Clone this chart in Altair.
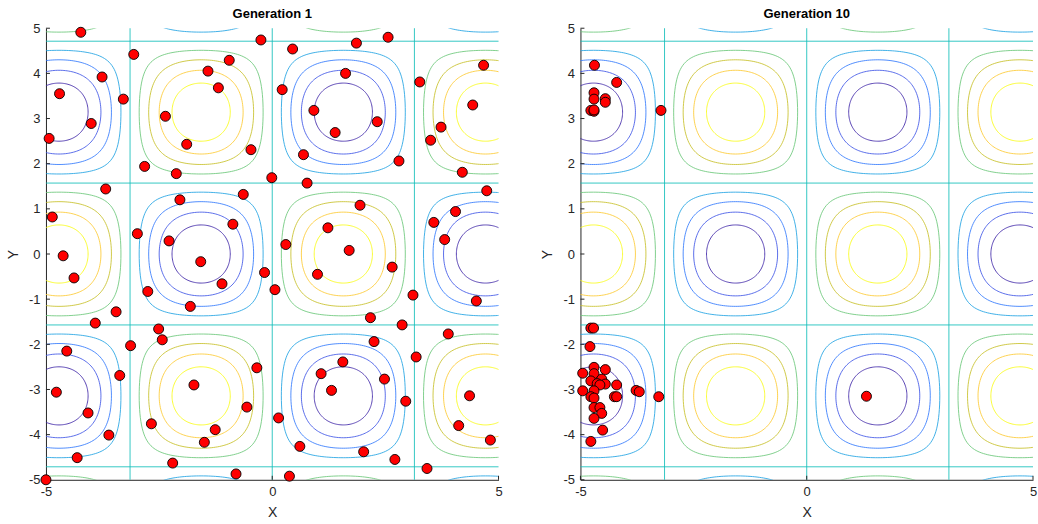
import numpy as np
import pandas as pd
import altair as alt

# ---------------- data ----------------
# contour levels of f(x, y) = sin(x) * cos(y) and their (parula) colours
levels = [-0.8, -0.6, -0.4, -0.2, 0.2, 0.4, 0.6, 0.8]
level_colors = ["#3E26A8", "#3F55E6", "#337AFD", "#21A3E3",
                "#6CC87A", "#C8C129", "#FDCA33", "#F9FB15"]
zero_color = "#12BEB9"

# extrema centres of sin(x)cos(y) near the window
centers_x = [-1.5 * np.pi, -0.5 * np.pi, 0.5 * np.pi, 1.5 * np.pi]
centers_y = [-2 * np.pi, -np.pi, 0.0, np.pi, 2 * np.pi]
# zero contours (straight lines)
zero_x = [-np.pi, 0.0, np.pi]
zero_y = [-1.5 * np.pi, -0.5 * np.pi, 0.5 * np.pi, 1.5 * np.pi]

x_ticks = [-5, 0, 5]
y_ticks = [-5, -4, -3, -2, -1, 0, 1, 2, 3, 4, 5]

# Generation 1 population
gen1_x = [-4.23, -0.25, -3.06, -0.95, -1.42, -3.76, -1.19, -4.70, -3.29, -2.36,
          -4.00, -4.93, -1.89, -0.47, -2.82, -2.12, -3.68, -0.64, -2.04, -4.86,
          -0.87, -2.98, -2.28, -4.62,
          0.45, 1.86, 2.56, 1.62, 0.22, 4.67, 3.26, 0.92, 2.32, 1.39,
          4.43, 3.73, 3.50, 0.69, 2.80, 4.20, -0.01, 0.77, 4.74, 1.94,
          4.05, 3.57, 1.23, 0.30, 3.81, 1.70,
          -1.58, -4.38, -1.11, -2.75, -1.81, -3.45, -3.91, -2.51, -2.43, -3.13,
          -4.54, -0.34, -3.37, -1.73, -4.77, -0.56, -4.07, -2.67, -1.26, -3.61,
          -1.50, -4.31, -2.20, -0.80, -5.00,
          -0.17, 1.00, 2.65, 0.06, 3.11, 4.51, 2.17, 2.87, 3.89, 2.25,
          1.56, 3.18, 1.08, 2.48, 1.31, 2.95, 4.36, 0.14, 4.12, 4.82,
          0.61, 2.02, 2.71, 3.42, 0.38]
gen1_y = [4.91, 4.74, 4.42, 4.29, 4.05, 3.92, 3.68, 3.55, 3.43, 3.05,
          2.89, 2.56, 2.43, 2.31, 1.94, 1.78, 1.44, 1.32, 1.20, 0.82,
          0.66, 0.45, 0.29, -0.04,
          4.54, 4.67, 4.80, 4.00, 3.64, 4.18, 3.81, 3.18, 2.93, 2.69,
          3.30, 2.81, 2.52, 2.20, 2.06, 1.81, 1.69, 1.57, 1.40, 1.08,
          0.94, 0.70, 0.58, 0.21, 0.32, 0.08,
          -0.17, -0.53, -0.66, -0.83, -1.16, -1.28, -1.53, -1.66, -1.90, -2.03,
          -2.15, -2.52, -2.69, -2.90, -3.06, -3.39, -3.52, -3.76, -3.89, -4.01,
          -4.17, -4.51, -4.63, -4.87, -5.00,
          -0.41, -0.45, -0.29, -0.79, -0.91, -1.04, -1.41, -1.57, -1.77, -1.94,
          -2.39, -2.28, -2.65, -2.77, -3.02, -3.26, -3.14, -3.63, -3.80, -4.12,
          -4.26, -4.38, -4.55, -4.75, -4.92]

# Generation 10 population
gen10_x = [-4.69, -4.20, -4.70, -4.70, -4.45, -4.45, -4.77, -4.70, -4.70, -3.22,
           -4.77, -4.71, -4.79, -4.70, -4.45, -4.95, -4.70, -4.53, -4.77, -4.63,
           -4.45, -4.57, -4.20, -4.95, -4.70, -3.77, -3.70, -4.77, -4.70, -4.25,
           -4.20, -3.27, -4.70, -4.57, -4.53, -4.70, -4.51, -4.77, 1.32]
gen10_y = [4.18, 3.80, 3.57, 3.43, 3.44, 3.36, 3.18, 3.16, 3.19, 3.18,
           -1.64, -1.64, -2.05, -2.51, -2.56, -2.64, -2.65, -2.77, -2.81, -2.87,
           -2.88, -2.90, -2.90, -3.03, -3.03, -3.02, -3.05, -3.16, -3.19, -3.16,
           -3.16, -3.16, -3.40, -3.40, -3.53, -3.64, -3.90, -4.15, -3.15]

# ---------------- contour geometry of sin(x)cos(y) ----------------
phi = np.linspace(0, 2 * np.pi, 161)
frames = []
loop_id = 0
for cx in centers_x:
    for cy in centers_y:
        s = np.sign(np.sin(cx) * np.cos(cy))
        for c in levels:
            if np.sign(c) != s:
                continue
            a = np.arccos(abs(c))
            dx = a * np.cos(phi)
            ratio = np.clip(abs(c) / np.cos(dx), -1, 1)
            dy = np.sign(np.sin(phi)) * np.arccos(ratio)
            xs, ys = cx + dx, cy + dy
            if ys.min() > 5 or ys.max() < -5 or xs.min() > 5 or xs.max() < -5:
                continue
            frames.append(pd.DataFrame({"x": xs, "y": ys, "level": str(c),
                                        "loop": loop_id, "i": np.arange(len(phi))}))
            loop_id += 1
contours = pd.concat(frames, ignore_index=True)

zx_df = pd.DataFrame({"x": zero_x})
zy_df = pd.DataFrame({"y": zero_y})
xt_df = pd.DataFrame({"x": x_ticks})
yt_df = pd.DataFrame({"y": y_ticks})

W, H = 453, 452
FONT = "Liberation Sans"
AX = "#262626"
LABEL = "'' + datum.value"

xs_ = alt.Scale(domain=[-5, 5], nice=False, zero=False)
ys_ = alt.Scale(domain=[-5, 5], nice=False, zero=False)
x_axis = alt.Axis(values=x_ticks, title="X", labelPadding=6, titlePadding=7,
                  labelExpr=LABEL, labelFlush=False)
y_axis = alt.Axis(values=y_ticks, title="Y", labelPadding=6, titlePadding=8,
                  labelExpr=LABEL)


def X(field="x"):
    return alt.X(f"{field}:Q", scale=xs_, axis=x_axis)


def Y(field="y"):
    return alt.Y(f"{field}:Q", scale=ys_, axis=y_axis)


def panel(title, px, py):
    pts = pd.DataFrame({"x": px, "y": py})
    vz = alt.Chart(zx_df).mark_rule(color=zero_color, strokeWidth=1, opacity=0.85).encode(x=X())
    hz = alt.Chart(zy_df).mark_rule(color=zero_color, strokeWidth=1, opacity=0.85).encode(y=Y())
    cl = alt.Chart(contours).mark_line(strokeWidth=1, clip=True, opacity=0.85).encode(
        x=X(), y=Y(),
        color=alt.Color("level:N", scale=alt.Scale(domain=[str(v) for v in levels],
                                                   range=level_colors), legend=None),
        detail="loop:N",
        order="i:Q",
    )
    ty = alt.Chart(yt_df).mark_rule(color=AX, strokeWidth=1).encode(
        y=Y(), x=alt.value(0), x2=alt.value(4))
    tx = alt.Chart(xt_df).mark_rule(color=AX, strokeWidth=1).encode(
        x=X(), y=alt.value(H), y2=alt.value(H - 4))
    pt = alt.Chart(pts).mark_circle(size=100, opacity=1, color="#FF0000",
                                    stroke="#000000", strokeWidth=0.9).encode(x=X(), y=Y())
    return alt.layer(vz, hz, cl, ty, tx, pt).properties(
        width=W, height=H,
        title=alt.TitleParams(title, fontSize=13, fontWeight="bold", font=FONT,
                              color="#000000", offset=1),
    )


chart = alt.hconcat(
    panel("Generation 1", gen1_x, gen1_y),
    panel("Generation 10", gen10_x, gen10_y),
    spacing=82, bounds="flush",
).properties(
    padding={"left": 6, "top": 8, "right": 1, "bottom": 5},
).configure_view(stroke=None).configure_axis(
    domainColor=AX, domainWidth=1, tickSize=0, grid=False,
    labelFont=FONT, labelFontSize=13, labelColor=AX,
    titleFont=FONT, titleFontSize=14, titleFontWeight="normal", titleColor=AX,
)

chart.save("out.html", embed_options={"renderer": "svg", "actions": False})
